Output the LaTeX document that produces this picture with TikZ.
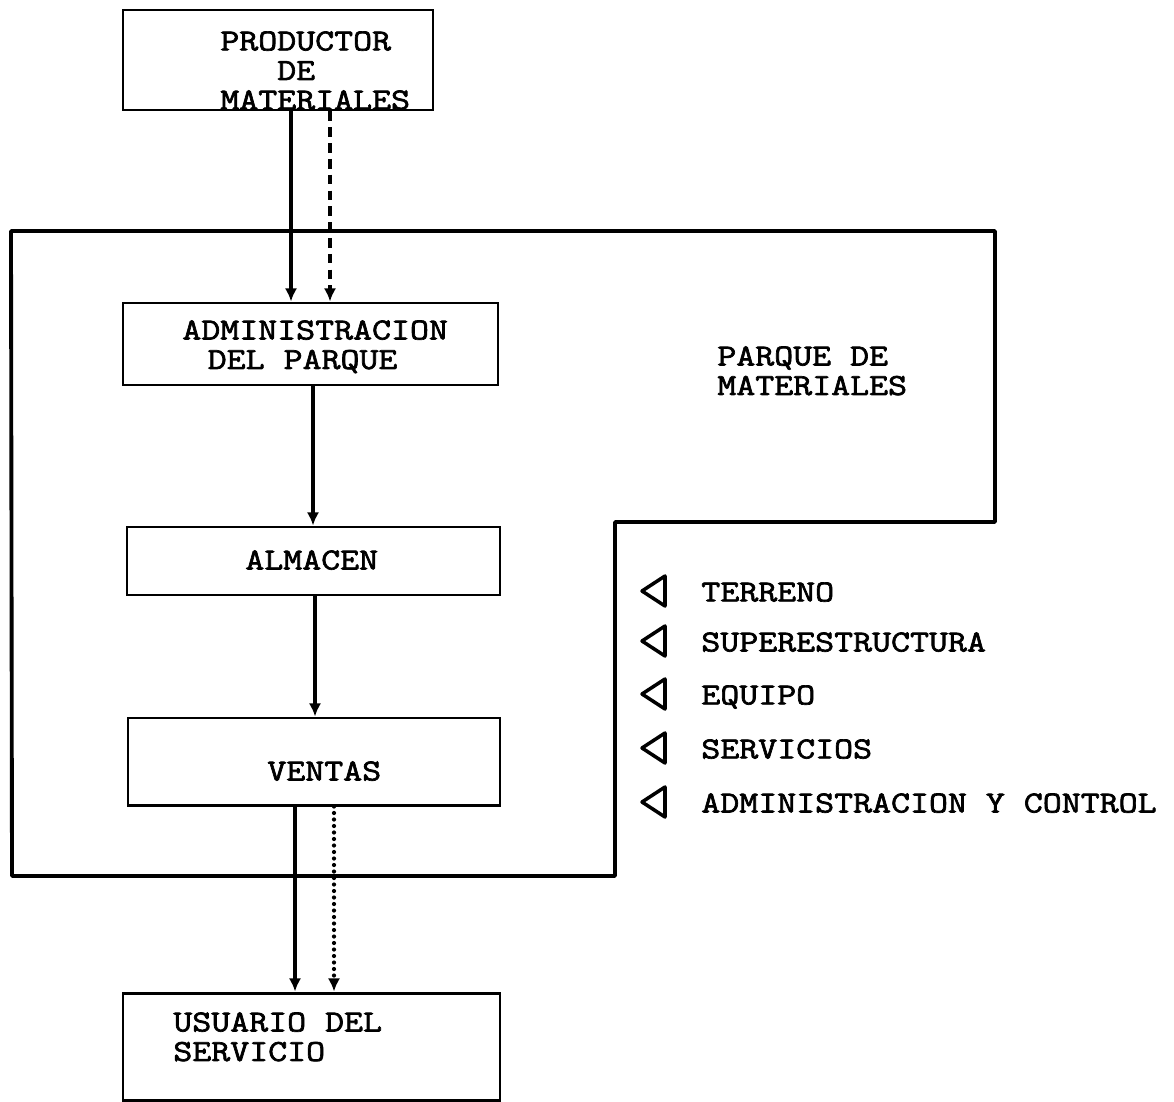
\documentclass[tikz,border=0pt]{standalone}
\usepackage{fontspec}
\usetikzlibrary{arrows.meta,fit}
\newfontfamily\tw{Latin Modern Mono}[FakeBold=2.2,FakeStretch=1.205]
\begin{document}
\begin{tikzpicture}[x=0.02cm,y=-0.02cm,
  box/.style={draw,line width=1.7pt,inner sep=0pt,rectangle},
  txt/.style={anchor=north west,inner sep=0pt,align=left,
    font=\tw\fontsize{17.4pt}{16.8pt}\selectfont},
  arr/.style={line width=1.8pt,-{Latex[length=7.5pt,width=7pt]}},
  dsh/.style={arr,dash pattern=on 5.5pt off 3.5pt},
  dts/.style={arr,line cap=round,dash pattern=on 0pt off 3.7pt,line width=2.4pt},
  tri/.style={draw,line width=2pt,line join=round}]
\useasboundingbox (0,0) rectangle (1174,1102);
% container outline
\draw[line width=2.2pt,line join=round] (11,231) -- (995,231) -- (995,522) -- (615,522) -- (615,876) -- (12,876) -- cycle;
% boxes
\node[box,fit={(123,10) (433,110)}] (prod) {};
\node[box,fit={(123,303) (498,385)}] (admin) {};
\node[box,fit={(127,527) (500,595)}] (alm) {};
\node[box,fit={(128,718) (500,805)}] (ven) {};
\node[box,fit={(123,993) (500,1100)}] (usu) {};
% texts
\node[txt] (prodT) at (220,31) {PRODUCTOR\\\phantom{MAT}DE\\MATERIALES};
\node[txt] (adminT) at (182,320) {ADMINISTRACION\\\hspace*{0.83em}DEL PARQUE};
\node[txt] (almT) at (245,550) {ALMACEN};
\node[txt] (venT) at (267,761) {VENTAS};
\node[txt] (usuT) at (173,1012) {USUARIO DEL\\SERVICIO};
\node[txt] (parT) at (717,346) {PARQUE DE\\MATERIALES};
% list
\foreach \yy/\lab/\nm in {591/TERRENO/l1,641/SUPERESTRUCTURA/l2,694/EQUIPO/l3,748/SERVICIOS/l4,802/ADMINISTRACION Y CONTROL/l5}{
  \draw[tri] (665,\yy-15) -- (642,\yy) -- (665,\yy+15) -- cycle;
  \node[txt] (\nm) at (701,\yy-9) {\lab};
}
% columns
\coordinate (c1) at (291,0);
\coordinate (c2) at (330,0);
\coordinate (c3) at (313,0);
\coordinate (c4) at (315,0);
\coordinate (c5) at (295,0);
\coordinate (c6) at (334,0);
% connectors
\draw[arr] (prod.south -| c1) -- (admin.north -| c1);
\draw[dsh] (prod.south -| c2) -- (admin.north -| c2);
\draw[arr] (admin.south -| c3) -- (alm.north -| c3);
\draw[arr] (alm.south -| c4) -- (ven.north -| c4);
\draw[arr] (ven.south -| c5) -- (usu.north -| c5);
\draw[dts] (ven.south -| c6) -- (usu.north -| c6);
\end{tikzpicture}
\end{document}
